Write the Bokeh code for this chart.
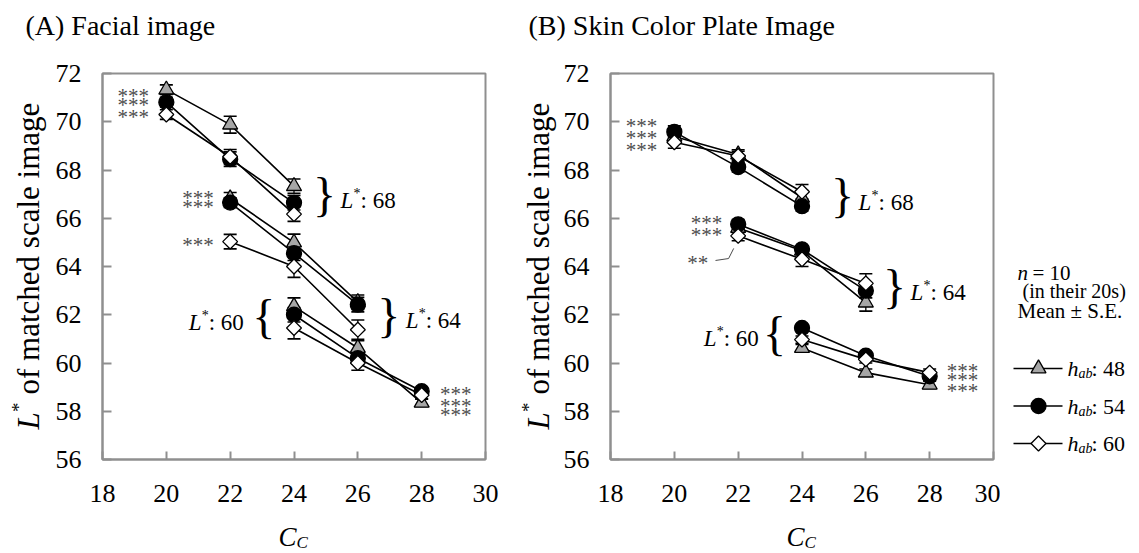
import math
from bokeh.plotting import figure
from bokeh.layouts import row, column
from bokeh.models import Range1d, FixedTicker, Label
from bokeh.embed import file_html
from bokeh.resources import INLINE

FONT = "Liberation Serif"
FRAME = "#8f8f8f"
STAR = "#4d4d4d"

# ---------------- data ----------------
hue_labels = ["48", "54", "60"]
cc_L68 = [20, 22, 24]
cc_L64 = [22, 24, 26]
cc_L60 = [24, 26, 28]
x_ticks = [18, 20, 22, 24, 26, 28, 30]
y_ticks = [56, 58, 60, 62, 64, 66, 68, 70, 72]

# (A) Facial image : mean L* of matched scale image
A_L68_h48 = [71.33, 69.88, 67.33]
A_L68_h54 = [70.81, 68.45, 66.64]
A_L68_h60 = [70.30, 68.55, 66.17]
A_L64_h48 = [66.82, 64.99, 62.52]
A_L64_h54 = [66.65, 64.55, 62.42]
A_L64_h60 = [65.03, 64.00, 61.38]
A_L60_h48 = [62.35, 60.62, 58.35]
A_L60_h54 = [62.00, 60.20, 58.83]
A_L60_h60 = [61.45, 60.00, 58.67]
# S.E.
A_L68_se48 = [0.20, 0.35, 0.30]
A_L68_se54 = [0.20, 0.30, 0.30]
A_L68_se60 = [0.20, 0.30, 0.30]
A_L64_se48 = [0.25, 0.35, 0.30]
A_L64_se54 = [0.20, 0.30, 0.30]
A_L64_se60 = [0.30, 0.45, 0.40]
A_L60_se48 = [0.35, 0.30, 0.15]
A_L60_se54 = [0.30, 0.25, 0.15]
A_L60_se60 = [0.45, 0.30, 0.15]

# (B) Skin Color Plate Image
B_L68_h48 = [69.39, 68.64, 66.85]
B_L68_h54 = [69.58, 68.12, 66.50]
B_L68_h60 = [69.15, 68.58, 67.10]
B_L64_h48 = [65.60, 64.65, 62.50]
B_L64_h54 = [65.75, 64.71, 63.00]
B_L64_h60 = [65.27, 64.30, 63.30]
B_L60_h48 = [60.62, 59.60, 59.10]
B_L60_h54 = [61.45, 60.30, 59.45]
B_L60_h60 = [60.97, 60.15, 59.60]
B_L68_se48 = [0.25, 0.20, 0.30]
B_L68_se54 = [0.25, 0.20, 0.20]
B_L68_se60 = [0.25, 0.20, 0.30]
B_L64_se48 = [0.20, 0.15, 0.35]
B_L64_se54 = [0.20, 0.15, 0.30]
B_L64_se60 = [0.20, 0.30, 0.40]
B_L60_se48 = [0.15, 0.15, 0.15]
B_L60_se54 = [0.15, 0.15, 0.15]
B_L60_se60 = [0.15, 0.15, 0.15]

# marker style per hue: (marker, size, fill, angle)
STYLES = [
    ("triangle", 15, "#a6a6a6", 0.0),
    ("circle", 15, "black", 0.0),
    ("square", 10.5, "white", math.pi / 4),
]


def make_panel(width, left, right):
    p = figure(width=width, height=470, x_range=Range1d(18, 30), y_range=Range1d(56, 72),
               output_backend="svg", toolbar_location=None,
               min_border_left=left, min_border_right=right,
               min_border_top=23, min_border_bottom=61)
    p.grid.visible = False
    p.background_fill_color = "white"
    p.border_fill_color = "white"
    p.outline_line_color = FRAME
    p.outline_line_width = 2
    xa = p.xaxis[0]
    ya = p.yaxis[0]
    xa.ticker = FixedTicker(ticks=x_ticks)
    ya.ticker = FixedTicker(ticks=y_ticks)
    for ax, tin in ((xa, 8), (ya, 9)):
        ax.axis_line_color = FRAME
        ax.axis_line_width = 2
        ax.major_tick_line_color = FRAME
        ax.major_tick_line_width = 2
        ax.major_tick_in = tin
        ax.major_tick_out = 0
        ax.minor_tick_line_color = None
        ax.major_label_text_font = FONT
        ax.major_label_text_font_size = "26px"
        ax.major_label_text_color = "black"
    xa.major_label_standoff = 25
    ya.major_label_standoff = 21
    return p


def strip(width, height, x0, x1, y_top, y_bot):
    s = figure(width=width, height=height, x_range=Range1d(x0, x1), y_range=Range1d(y_bot, y_top),
               output_backend="svg", toolbar_location=None, x_axis_location=None,
               y_axis_location=None, min_border=0, frame_align=False)
    s.grid.visible = False
    s.outline_line_color = None
    s.background_fill_color = "white"
    s.border_fill_color = "white"
    return s


def lab(p, x, y, text, size, style="normal", align="left", baseline="middle",
        color="black", angle=0.0, xo=0, yo=0):
    p.add_layout(Label(x=x, y=y, text=text, text_font=FONT, text_font_size=f"{size}px",
                       text_font_style=style, text_align=align, text_baseline=baseline,
                       text_color=color, angle=angle, x_offset=xo, y_offset=yo))


def draw_data(p, series):
    for cc, vals, ses, h in series:
        p.line(cc, vals, line_color="black", line_width=1.6)
    for cc, vals, ses, h in series:
        lo = [v - s for v, s in zip(vals, ses)]
        hi = [v + s for v, s in zip(vals, ses)]
        p.segment(x0=cc, y0=lo, x1=cc, y1=hi, line_color="black", line_width=1.3)
        p.scatter(cc, lo, marker="dash", size=13, line_color="black", line_width=1.6)
        p.scatter(cc, hi, marker="dash", size=13, line_color="black", line_width=1.6)
    for h in range(3):
        m, s, f, a = STYLES[h]
        for cc, vals, ses, hh in series:
            if hh == h:
                p.scatter(cc, vals, marker=m, size=s, fill_color=f, line_color="black",
                          line_width=1.3, angle=a)


def stars(p, x, ys, text="***"):
    for y in ys:
        lab(p, x, y, text, 21, align="center", color=STAR, yo=-3)


def brace(p, x, y, ch):
    lab(p, x, y, ch, 48, align="center", yo=4)


def lstar(p, x, y, num):
    lab(p, x, y, "L", 23, style="italic")
    lab(p, x, y, "*", 14, xo=13, yo=7)
    lab(p, x, y, ": " + num, 23, xo=20)


# ---------------- panel A ----------------
pA = make_panel(465, 52, 30)
seriesA = [
    (cc_L68, A_L68_h48, A_L68_se48, 0), (cc_L68, A_L68_h54, A_L68_se54, 1), (cc_L68, A_L68_h60, A_L68_se60, 2),
    (cc_L64, A_L64_h48, A_L64_se48, 0), (cc_L64, A_L64_h54, A_L64_se54, 1), (cc_L64, A_L64_h60, A_L64_se60, 2),
    (cc_L60, A_L60_h48, A_L60_se48, 0), (cc_L60, A_L60_h54, A_L60_se54, 1), (cc_L60, A_L60_h60, A_L60_se60, 2),
]
draw_data(pA, seriesA)
stars(pA, 18.96, [71.21, 70.80, 70.34])
stars(pA, 20.99, [66.98, 66.57])
stars(pA, 20.99, [65.0])
stars(pA, 29.07, [58.82, 58.36, 57.95])
brace(pA, 24.96, 66.82, "}")
lstar(pA, 25.46, 66.74, "68")
lstar(pA, 20.70, 61.68, "60")
brace(pA, 23.05, 61.76, "{")
brace(pA, 26.97, 61.80, "}")
lstar(pA, 27.50, 61.76, "64")

# ---------------- panel B ----------------
pB = make_panel(440, 50, 7)
seriesB = [
    (cc_L68, B_L68_h48, B_L68_se48, 0), (cc_L68, B_L68_h54, B_L68_se54, 1), (cc_L68, B_L68_h60, B_L68_se60, 2),
    (cc_L64, B_L64_h48, B_L64_se48, 0), (cc_L64, B_L64_h54, B_L64_se54, 1), (cc_L64, B_L64_h60, B_L64_se60, 2),
    (cc_L60, B_L60_h48, B_L60_se48, 0), (cc_L60, B_L60_h54, B_L60_se54, 1), (cc_L60, B_L60_h60, B_L60_se60, 2),
]
draw_data(pB, seriesB)
stars(pB, 18.97, [69.93, 69.47, 68.97])
stars(pB, 21.01, [65.91, 65.41])
stars(pB, 20.73, [64.25], "**")
pB.line([21.29, 21.70, 21.86], [64.25, 64.33, 64.75], line_color=STAR, line_width=1)
stars(pB, 29.03, [59.81, 59.40, 58.98])
brace(pB, 25.27, 66.78, "}")
lstar(pB, 25.77, 66.65, "68")
brace(pB, 26.90, 63.00, "}")
lstar(pB, 27.40, 62.92, "64")
lstar(pB, 20.92, 61.02, "60")
brace(pB, 23.14, 61.06, "{")

# ---------------- titles and axis titles (page-pixel strips) ----------------
top = strip(1139, 50, 0, 1139, 0, 50)
lab(top, 25, 25, "(A) Facial image", 28)
lab(top, 528, 25, "(B) Skin Color Plate Image", 28)


def y_title(s, xc, y0):
    r = math.pi / 2
    lab(s, xc, y0, "L", 31, style="italic", angle=r)
    lab(s, xc - 10, y0 - 17.5, "*", 19, angle=r)
    lab(s, xc, y0 - 35, "of matched scale image", 31, angle=r)


ylA = strip(50, 470, 0, 50, 50, 520)
y_title(ylA, 28, 429)
ylB = strip(45, 470, 515, 560, 50, 520)
y_title(ylB, 538, 429)

bottom = strip(1139, 33, 0, 1139, 520, 553)
for xc in (278, 786):
    lab(bottom, xc, 536, "C", 27, style="italic")
    lab(bottom, xc + 18, 542, "C", 17, style="italic")

# ---------------- legend ----------------
pL = strip(139, 470, 1000, 1139, 50, 520)
lab(pL, 1017, 272, "n", 21, style="italic")
lab(pL, 1032, 272, "= 10", 21)
lab(pL, 1022, 290, "(in their 20s)", 20)
lab(pL, 1017, 310, "Mean \u00b1 S.E.", 21)
for i, hl in enumerate(hue_labels):
    yy = 368 + 37.5 * i
    m, s, f, a = STYLES[i]
    pL.line([1013, 1062], [yy, yy], line_color="black", line_width=1.6)
    pL.scatter([1038], [yy], marker=m, size=s, fill_color=f, line_color="black",
               line_width=1.3, angle=a)
    lab(pL, 1067, yy, "h", 22, style="italic")
    lab(pL, 1078, yy + 5, "ab", 14, style="italic")
    lab(pL, 1091, yy, ": " + hl, 22)

layout = column(top, row(ylA, pA, ylB, pB, pL), bottom)
open("out.html", "w").write(file_html(layout, INLINE))
